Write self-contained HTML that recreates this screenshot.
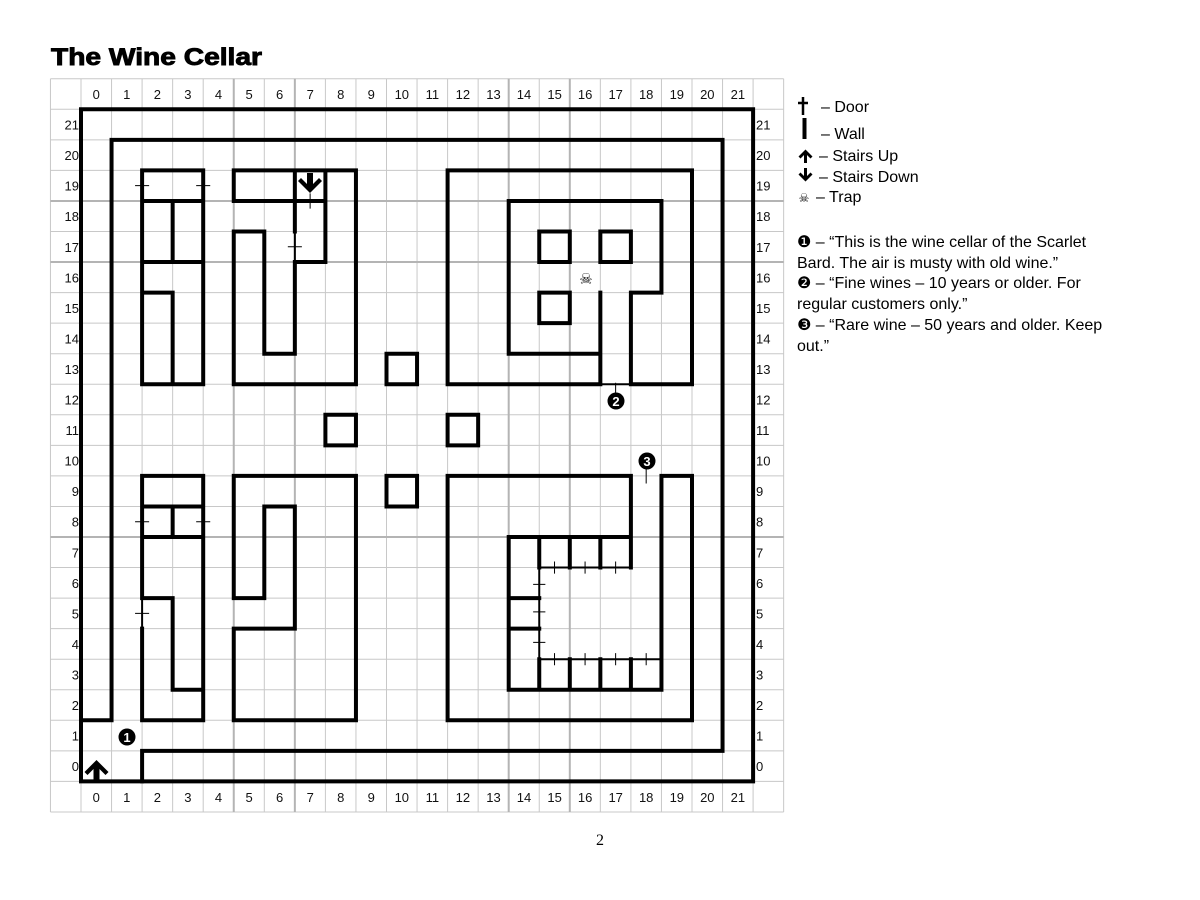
<!DOCTYPE html>
<html><head><meta charset="utf-8"><style>
html,body{margin:0;padding:0;background:#fff;}
svg{display:block}
.n{font-family:"Liberation Sans",sans-serif;font-size:13px;fill:#111}
.lg{font-family:"Liberation Sans","DejaVu Sans",sans-serif;font-size:16px;fill:#000}
</style></head><body>
<svg width="1200" height="900" viewBox="0 0 1200 900" xmlns="http://www.w3.org/2000/svg">
<text x="51" y="65" font-family="Liberation Sans,sans-serif" font-weight="bold" font-size="24" textLength="211" lengthAdjust="spacingAndGlyphs" stroke="#000" stroke-width="0.9">The Wine Cellar</text>

<g transform="translate(81,109.3) scale(30.55)" fill="none">
<g stroke="#c8c8c8" stroke-width="1">
<path vector-effect="non-scaling-stroke" d="M-1 -1V23M0 -1V23M1 -1V23M2 -1V23M3 -1V23M4 -1V23M5 -1V23M6 -1V23M7 -1V23M8 -1V23M9 -1V23M10 -1V23M11 -1V23M12 -1V23M13 -1V23M14 -1V23M15 -1V23M16 -1V23M17 -1V23M18 -1V23M19 -1V23M20 -1V23M21 -1V23M22 -1V23M23 -1V23"/>
<path vector-effect="non-scaling-stroke" d="M-1 -1H23M-1 0H23M-1 1H23M-1 2H23M-1 3H23M-1 4H23M-1 5H23M-1 6H23M-1 7H23M-1 8H23M-1 9H23M-1 10H23M-1 11H23M-1 12H23M-1 13H23M-1 14H23M-1 15H23M-1 16H23M-1 17H23M-1 18H23M-1 19H23M-1 20H23M-1 21H23M-1 22H23M-1 23H23"/>
</g>
<g stroke="#b4b4b4">
<path vector-effect="non-scaling-stroke" stroke-width="2" d="M5 -1V23M7 -1V23M14 -1V23M16 -1V23M-1 3H23M-1 5H23M-1 14H23"/>
</g>
<g stroke="#000" stroke-width="4" stroke-linecap="square" stroke-linejoin="miter">
<path vector-effect="non-scaling-stroke" d="M0 0H22V22H0Z"/>
<path vector-effect="non-scaling-stroke" d="M0 20H1V1H21V21H2V22"/>
<path vector-effect="non-scaling-stroke" d="M2 2H4V3H2ZM2 3V9H4V3M2 6H3V9M2 5H4M3 3V5"/>
<path vector-effect="non-scaling-stroke" d="M5 2H9V9H5V4H6V8H7V5H8V2M5 2V3H8M7 2V4"/>
<path vector-effect="non-scaling-stroke" d="M2 12H4V13H2ZM2 13H4M2 14H4M3 13V14M4 13V20H2V17M2 13V16M2 16H3V19H4"/>
<path vector-effect="non-scaling-stroke" d="M5 17H7V13H6V16H5V12H9V20H5Z"/>
<path vector-effect="non-scaling-stroke" d="M10 8H11V9H10ZM10 12H11V13H10ZM8 10H9V11H8ZM12 10H13V11H12Z"/>
<path vector-effect="non-scaling-stroke" d="M17 9H12V2H20V9H18M17 6V9M17 8H14V3H19V6H18V9M15 4H16V5H15ZM17 4H18V5H17ZM15 6H16V7H15Z"/>
<path vector-effect="non-scaling-stroke" d="M18 12H12V20H20V12H19V19H14V14H18M18 12V15M15 14V15M16 14V15M17 14V15M14 16H15M14 17H15M15 18V19M16 18V19M17 18V19M18 18V19"/>
</g>
<g stroke="#000" stroke-width="2">
<path vector-effect="non-scaling-stroke" d="M18 15H15V18H19M17 9H18M7 4V5M2 16V17"/>
</g>
<g stroke="#000" stroke-width="1">
<path vector-effect="non-scaling-stroke" d="M1.77 2.5H2.23M3.77 2.5H4.23M7.5 2.75V3.25M6.77 4.5H7.23M1.77 13.5H2.23M3.77 13.5H4.23M1.77 16.5H2.23M17.5 8.95V9.35M18.5 11.75V12.25M15.5 14.8V15.2M16.5 14.8V15.2M17.5 14.8V15.2M14.8 15.55H15.2M14.8 16.45H15.2M14.8 17.45H15.2M15.5 17.8V18.2M16.5 17.8V18.2M17.5 17.8V18.2M18.5 17.8V18.2"/>
</g>
</g>

<!-- stairs -->
<path d="M307 173h6v11l6-6l3 3l-12 12l-12-12l3-3l6 6z" fill="#000"/>
<path d="M93.5 781v-12l-6 6l-3-3l12-12l12 12l-3 3l-6-6v12z" fill="#000"/>
<text x="586" y="284" font-family="DejaVu Sans,sans-serif" font-size="15" text-anchor="middle">☠</text>
<circle cx="127" cy="737" r="8.5" fill="#000"/><text x="127" y="742" font-family="Liberation Sans,sans-serif" font-weight="bold" font-size="13" fill="#fff" text-anchor="middle">1</text>
<circle cx="616" cy="401" r="8.5" fill="#000"/><text x="616" y="406" font-family="Liberation Sans,sans-serif" font-weight="bold" font-size="13" fill="#fff" text-anchor="middle">2</text>
<circle cx="647" cy="461" r="8.5" fill="#000"/><text x="647" y="466" font-family="Liberation Sans,sans-serif" font-weight="bold" font-size="13" fill="#fff" text-anchor="middle">3</text>

<g class="n" text-anchor="middle">
<text x="96.3" y="99">0</text><text x="126.8" y="99">1</text><text x="157.4" y="99">2</text><text x="187.9" y="99">3</text><text x="218.5" y="99">4</text><text x="249.1" y="99">5</text><text x="279.6" y="99">6</text><text x="310.2" y="99">7</text><text x="340.7" y="99">8</text><text x="371.3" y="99">9</text><text x="401.8" y="99">10</text><text x="432.4" y="99">11</text><text x="462.9" y="99">12</text><text x="493.5" y="99">13</text><text x="524" y="99">14</text><text x="554.6" y="99">15</text><text x="585.1" y="99">16</text><text x="615.7" y="99">17</text><text x="646.2" y="99">18</text><text x="676.8" y="99">19</text><text x="707.3" y="99">20</text><text x="737.9" y="99">21</text>
<text x="96.3" y="802">0</text><text x="126.8" y="802">1</text><text x="157.4" y="802">2</text><text x="187.9" y="802">3</text><text x="218.5" y="802">4</text><text x="249.1" y="802">5</text><text x="279.6" y="802">6</text><text x="310.2" y="802">7</text><text x="340.7" y="802">8</text><text x="371.3" y="802">9</text><text x="401.8" y="802">10</text><text x="432.4" y="802">11</text><text x="462.9" y="802">12</text><text x="493.5" y="802">13</text><text x="524" y="802">14</text><text x="554.6" y="802">15</text><text x="585.1" y="802">16</text><text x="615.7" y="802">17</text><text x="646.2" y="802">18</text><text x="676.8" y="802">19</text><text x="707.3" y="802">20</text><text x="737.9" y="802">21</text>
</g>
<g class="n" text-anchor="end">
<text x="79" y="129.6">21</text><text x="79" y="160.1">20</text><text x="79" y="190.7">19</text><text x="79" y="221.2">18</text><text x="79" y="251.8">17</text><text x="79" y="282.3">16</text><text x="79" y="312.9">15</text><text x="79" y="343.4">14</text><text x="79" y="374">13</text><text x="79" y="404.5">12</text><text x="79" y="435.1">11</text><text x="79" y="465.6">10</text><text x="79" y="496.2">9</text><text x="79" y="526.7">8</text><text x="79" y="557.3">7</text><text x="79" y="587.8">6</text><text x="79" y="618.4">5</text><text x="79" y="648.9">4</text><text x="79" y="679.5">3</text><text x="79" y="710">2</text><text x="79" y="740.6">1</text><text x="79" y="771.1">0</text>
</g>
<g class="n">
<text x="756" y="129.6">21</text><text x="756" y="160.1">20</text><text x="756" y="190.7">19</text><text x="756" y="221.2">18</text><text x="756" y="251.8">17</text><text x="756" y="282.3">16</text><text x="756" y="312.9">15</text><text x="756" y="343.4">14</text><text x="756" y="374">13</text><text x="756" y="404.5">12</text><text x="756" y="435.1">11</text><text x="756" y="465.6">10</text><text x="756" y="496.2">9</text><text x="756" y="526.7">8</text><text x="756" y="557.3">7</text><text x="756" y="587.8">6</text><text x="756" y="618.4">5</text><text x="756" y="648.9">4</text><text x="756" y="679.5">3</text><text x="756" y="710">2</text><text x="756" y="740.6">1</text><text x="756" y="771.1">0</text>
</g>

<!-- legend -->
<path d="M803 97v18M798 103h10" stroke="#000" stroke-width="2.5" fill="none"/>
<rect x="802.5" y="118" width="4" height="21" fill="#000"/>
<path d="M804 163v-8l-3.5 3.5l-2-2l7-7l7 7l-2 2l-3.5-3.5v8z" fill="#000"/>
<path d="M804 168v8l-3.5-3.5l-2 2l7 7l7-7l-2-2l-3.5 3.5v-8z" fill="#000"/>
<text x="804" y="202" font-family="DejaVu Sans,sans-serif" font-size="12" text-anchor="middle">☠</text>
<g class="lg">
<text x="821" y="112">– Door</text>
<text x="821" y="139">– Wall</text>
<text x="819" y="161">– Stairs Up</text>
<text x="819" y="182">– Stairs Down</text>
<text x="816" y="202">– Trap</text>
<text x="797" y="247">❶ – “This is the wine cellar of the Scarlet</text>
<text x="797" y="268">Bard. The air is musty with old wine.”</text>
<text x="797" y="288">❷ – “Fine wines – 10 years or older. For</text>
<text x="797" y="309">regular customers only.”</text>
<text x="797" y="330">❸ – “Rare wine – 50 years and older. Keep</text>
<text x="797" y="351">out.”</text>
</g>
<text x="600" y="845" font-family="Liberation Serif,serif" font-size="16" text-anchor="middle">2</text>
</svg>
</body></html>
